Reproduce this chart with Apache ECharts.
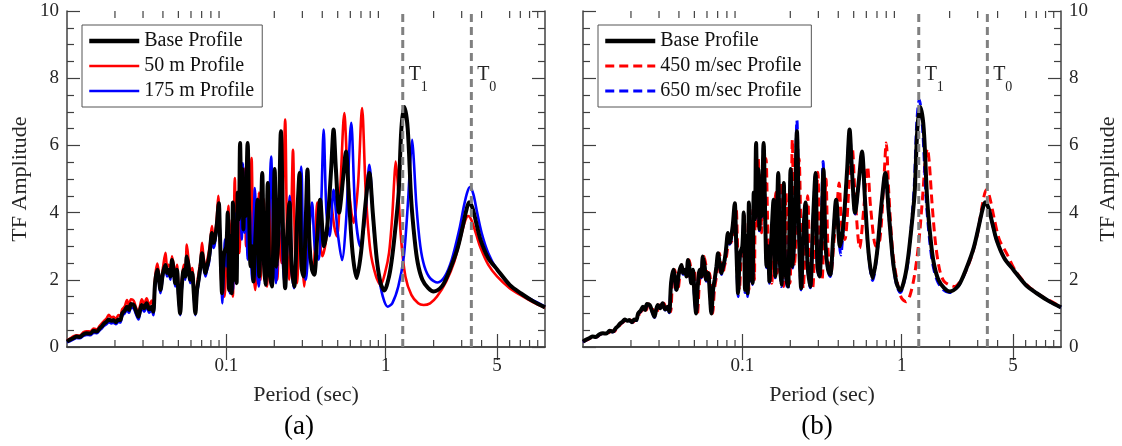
<!DOCTYPE html>
<html><head><meta charset="utf-8">
<script src="https://cdn.jsdelivr.net/npm/echarts@6/dist/echarts.min.js"></script>
<style>html,body{margin:0;padding:0;background:#fff;}#c{width:1122px;height:446px;}</style>
</head><body><div id="c"></div>
<script>
// ---------- data ----------
const xMin = 0.01, xMax = 10;
const xLabelTicks = [0.1, 1, 5];
const xMinorTicks = [0.02,0.03,0.04,0.05,0.06,0.07,0.08,0.09,0.2,0.3,0.4,0.5,0.6,0.7,0.8,0.9,2,3,4,6,7,8,9];
const T1 = 1.28, T0 = 3.45;
const legendA = ['Base Profile', '50 m Profile', '175 m Profile'];
const legendB = ['Base Profile', '450 m/sec Profile', '650 m/sec Profile'];

const baseProfile = [
[0.0100,0.16],[0.0105,0.22],[0.0110,0.27],[0.0115,0.31],[0.0120,0.30],[0.0127,0.38],[0.0133,0.41],[0.0140,0.40],[0.0147,0.48],[0.0154,0.46],[0.0160,0.55],[0.0165,0.61],[0.0171,0.70],[0.0177,0.75],[0.0183,0.82],[0.0190,0.78],[0.0195,0.80],[0.0203,0.74],[0.0210,0.82],[0.0216,0.80],[0.0222,1.00],[0.0230,1.08],[0.0238,1.20],[0.0245,1.10],[0.0252,1.28],[0.0262,1.25],[0.0270,1.10],[0.0281,0.90],[0.0288,1.12],[0.0295,1.25],[0.0305,1.15],[0.0316,1.30],[0.0328,1.12],[0.0340,1.20],[0.0348,1.05],[0.0357,1.90],[0.0369,2.30],[0.0378,2.00],[0.0386,1.70],[0.0400,2.20],[0.0415,2.44],[0.0425,2.20],[0.0435,2.30],[0.0446,2.10],[0.0456,2.59],[0.0467,2.30],[0.0478,1.90],[0.0490,2.30],[0.0500,1.60],[0.0513,1.00],[0.0525,1.80],[0.0540,2.30],[0.0553,2.10],[0.0565,2.69],[0.0580,2.40],[0.0593,2.00],[0.0610,2.20],[0.0625,1.60],[0.0639,1.00],[0.0655,1.70],[0.0670,2.00],[0.0688,2.40],[0.0704,2.79],[0.0720,2.50],[0.0740,2.20],[0.0757,2.40],[0.0774,2.59],[0.0790,2.90],[0.0812,3.39],[0.0830,3.10],[0.0845,3.19],[0.0870,3.60],[0.0897,4.28],[0.0910,3.50],[0.0925,2.40],[0.0940,1.60],[0.0955,2.30],[0.0970,2.80],[0.1000,2.99],[0.1020,4.00],[0.1040,1.70],[0.1060,3.30],[0.1080,1.60],[0.1100,4.30],[0.1120,2.00],[0.1140,3.60],[0.1160,1.90],[0.1180,4.60],[0.1200,3.80],[0.1220,6.07],[0.1240,4.90],[0.1260,5.30],[0.1280,3.50],[0.1300,4.80],[0.1320,3.90],[0.1360,6.07],[0.1390,4.00],[0.1420,2.40],[0.1450,3.00],[0.1480,1.95],[0.1520,3.20],[0.1570,4.38],[0.1610,2.10],[0.1640,3.40],[0.1680,5.18],[0.1720,2.60],[0.1760,1.85],[0.1820,4.88],[0.1860,2.30],[0.1930,1.80],[0.2010,5.30],[0.2070,2.39],[0.2130,3.50],[0.2200,6.42],[0.2280,3.00],[0.2340,1.75],[0.2410,3.30],[0.2490,4.30],[0.2570,2.40],[0.2670,1.80],[0.2780,3.80],[0.2880,5.18],[0.2960,2.40],[0.3050,2.10],[0.3140,3.50],[0.3230,5.28],[0.3330,3.00],[0.3450,2.30],[0.3560,2.15],[0.3720,3.30],[0.3880,4.38],[0.4100,3.00],[0.4300,3.60],[0.4550,5.30],[0.4710,6.47],[0.4870,5.30],[0.5100,4.00],[0.5400,5.00],[0.5630,5.82],[0.5900,4.30],[0.6200,2.80],[0.6570,2.05],[0.7000,2.80],[0.7450,4.20],[0.7900,5.18],[0.8300,4.00],[0.8800,2.60],[0.9300,1.90],[0.9800,1.68],[1.0500,2.10],[1.1000,2.70],[1.1600,3.70],[1.2070,4.60],[1.2550,6.50],[1.3100,7.14],[1.3750,6.50],[1.4450,4.40],[1.5200,3.20],[1.5900,2.50],[1.7000,2.00],[1.8500,1.75],[2.0000,1.65],[2.2500,1.80],[2.4300,2.10],[2.8100,2.90],[3.0500,3.60],[3.2000,4.05],[3.3400,4.31],[3.5000,4.15],[3.7000,3.70],[3.9400,3.19],[4.4000,2.65],[5.0200,2.30],[6.0000,1.85],[7.0400,1.60],[8.5000,1.35],[10.000,1.18]
];

const profile50m = [
[0.0100,0.20],[0.0105,0.26],[0.0110,0.32],[0.0115,0.35],[0.0120,0.34],[0.0127,0.44],[0.0133,0.47],[0.0140,0.46],[0.0147,0.55],[0.0154,0.52],[0.0160,0.62],[0.0165,0.70],[0.0171,0.78],[0.0177,0.85],[0.0183,0.96],[0.0190,0.88],[0.0195,0.90],[0.0203,0.84],[0.0210,0.95],[0.0216,0.92],[0.0222,1.12],[0.0230,1.20],[0.0238,1.40],[0.0245,1.22],[0.0252,1.42],[0.0262,1.38],[0.0270,1.20],[0.0281,1.02],[0.0288,1.25],[0.0295,1.42],[0.0305,1.28],[0.0316,1.45],[0.0328,1.25],[0.0340,1.38],[0.0348,1.15],[0.0357,2.05],[0.0369,2.48],[0.0378,2.15],[0.0386,1.85],[0.0400,2.35],[0.0415,2.80],[0.0425,2.40],[0.0435,2.45],[0.0446,2.25],[0.0456,2.70],[0.0467,2.45],[0.0478,2.05],[0.0490,2.45],[0.0500,1.80],[0.0513,1.15],[0.0525,1.95],[0.0540,2.45],[0.0553,2.25],[0.0565,3.05],[0.0580,2.55],[0.0593,2.15],[0.0610,2.35],[0.0625,1.75],[0.0639,1.20],[0.0655,1.85],[0.0670,2.20],[0.0688,2.55],[0.0704,3.10],[0.0720,2.65],[0.0740,2.30],[0.0757,2.55],[0.0774,2.80],[0.0790,3.05],[0.0812,3.60],[0.0830,3.25],[0.0845,3.30],[0.0870,3.80],[0.0890,4.50],[0.0905,3.70],[0.0920,2.60],[0.0935,1.80],[0.0955,2.40],[0.0975,1.50],[0.1000,2.60],[0.1030,4.20],[0.1050,1.90],[0.1080,3.80],[0.1100,1.50],[0.1130,5.03],[0.1160,2.40],[0.1190,4.00],[0.1210,2.80],[0.1240,5.00],[0.1270,3.60],[0.1300,5.30],[0.1330,3.00],[0.1370,5.40],[0.1400,3.20],[0.1440,5.62],[0.1480,2.40],[0.1520,1.70],[0.1560,3.60],[0.1600,4.60],[0.1640,2.00],[0.1680,3.30],[0.1720,4.40],[0.1760,2.20],[0.1800,1.80],[0.1860,4.90],[0.1910,2.50],[0.1960,2.00],[0.2030,4.00],[0.2090,2.00],[0.2150,3.50],[0.2220,2.50],[0.2280,4.80],[0.2340,6.77],[0.2410,3.00],[0.2480,2.00],[0.2550,3.70],[0.2620,5.87],[0.2700,2.80],[0.2780,1.90],[0.2850,3.20],[0.2920,4.40],[0.3000,2.60],[0.3080,1.80],[0.3170,3.00],[0.3270,4.38],[0.3380,2.60],[0.3500,2.20],[0.3600,3.00],[0.3720,4.30],[0.3850,3.30],[0.4000,2.70],[0.4200,3.10],[0.4500,4.40],[0.4750,3.60],[0.4950,3.29],[0.5200,4.80],[0.5500,6.96],[0.5800,5.00],[0.6290,3.69],[0.6700,4.80],[0.7110,7.11],[0.7500,4.60],[0.8000,2.90],[0.8700,2.10],[0.9300,1.85],[0.9900,2.20],[1.0500,2.80],[1.1000,3.90],[1.1300,4.90],[1.1560,5.52],[1.1900,4.90],[1.2500,3.20],[1.3300,2.10],[1.4500,1.55],[1.6000,1.30],[1.7300,1.25],[1.9000,1.30],[2.1000,1.50],[2.4000,1.95],[2.7000,2.55],[2.9500,3.25],[3.1500,3.75],[3.3000,3.90],[3.4500,3.78],[3.7000,3.35],[3.9400,2.95],[4.4000,2.45],[5.0000,2.10],[6.0000,1.75],[7.0000,1.55],[8.5000,1.32],[10.000,1.17]
];

const profile175m = [
[0.0100,0.14],[0.0105,0.18],[0.0110,0.23],[0.0115,0.27],[0.0120,0.26],[0.0127,0.33],[0.0133,0.36],[0.0140,0.35],[0.0147,0.42],[0.0154,0.41],[0.0160,0.49],[0.0165,0.55],[0.0171,0.63],[0.0177,0.68],[0.0183,0.74],[0.0190,0.70],[0.0195,0.72],[0.0203,0.68],[0.0210,0.75],[0.0216,0.73],[0.0222,0.92],[0.0230,1.00],[0.0238,1.10],[0.0245,1.02],[0.0252,1.18],[0.0262,1.15],[0.0270,1.00],[0.0281,0.82],[0.0288,1.02],[0.0295,1.15],[0.0305,1.05],[0.0316,1.20],[0.0328,1.02],[0.0340,1.10],[0.0348,0.95],[0.0357,1.75],[0.0369,2.20],[0.0378,1.90],[0.0386,1.60],[0.0400,2.10],[0.0415,2.35],[0.0425,2.10],[0.0435,2.20],[0.0446,2.00],[0.0456,2.50],[0.0467,2.20],[0.0478,1.80],[0.0490,2.20],[0.0500,1.50],[0.0513,0.95],[0.0525,1.70],[0.0540,2.20],[0.0553,2.00],[0.0565,2.55],[0.0580,2.30],[0.0593,1.90],[0.0610,2.10],[0.0625,1.50],[0.0639,0.95],[0.0655,1.60],[0.0670,1.90],[0.0688,2.30],[0.0704,2.65],[0.0720,2.40],[0.0740,2.10],[0.0757,2.30],[0.0774,2.45],[0.0790,2.75],[0.0812,3.20],[0.0830,2.95],[0.0845,3.05],[0.0870,3.50],[0.0897,4.00],[0.0915,3.20],[0.0930,2.10],[0.0945,1.30],[0.0960,2.00],[0.0980,3.20],[0.1000,2.40],[0.1030,3.60],[0.1050,1.60],[0.1080,3.00],[0.1100,1.70],[0.1130,4.00],[0.1160,2.20],[0.1190,3.90],[0.1220,4.80],[0.1250,3.20],[0.1270,5.47],[0.1300,3.40],[0.1330,4.50],[0.1360,2.60],[0.1400,4.20],[0.1450,2.00],[0.1510,4.73],[0.1560,2.20],[0.1600,1.80],[0.1650,3.50],[0.1700,4.20],[0.1760,2.00],[0.1830,3.00],[0.1910,5.67],[0.1980,2.80],[0.2050,1.90],[0.2120,3.40],[0.2180,5.20],[0.2260,2.60],[0.2340,1.80],[0.2420,3.20],[0.2500,4.50],[0.2580,2.20],[0.2660,1.75],[0.2780,3.50],[0.2950,5.37],[0.3050,2.39],[0.3150,2.00],[0.3300,3.30],[0.3450,4.30],[0.3600,2.90],[0.3800,2.60],[0.3950,4.40],[0.4080,6.47],[0.4250,4.00],[0.4450,3.30],[0.4710,4.68],[0.5000,3.40],[0.5320,2.59],[0.5650,3.80],[0.6080,6.67],[0.6450,4.00],[0.6930,2.99],[0.7400,3.80],[0.7900,5.42],[0.8400,3.60],[0.9000,2.20],[0.9600,1.50],[1.0300,1.20],[1.1000,1.30],[1.2000,1.80],[1.3000,2.70],[1.3800,4.30],[1.4300,5.60],[1.4660,6.17],[1.5000,5.60],[1.5600,4.20],[1.6500,3.00],[1.7500,2.40],[1.9000,2.05],[2.1200,1.92],[2.3500,2.10],[2.6000,2.60],[2.9000,3.50],[3.1000,4.20],[3.2500,4.60],[3.3800,4.76],[3.5500,4.55],[3.7500,4.00],[4.0000,3.40],[4.4000,2.80],[5.0000,2.30],[6.0000,1.85],[7.0000,1.60],[8.5000,1.38],[10.000,1.20]
];

const profile450 = [
[0.0100,0.15],[0.0106,0.21],[0.0112,0.27],[0.0117,0.31],[0.0122,0.30],[0.0129,0.38],[0.0136,0.41],[0.0143,0.40],[0.0150,0.48],[0.0157,0.46],[0.0163,0.55],[0.0168,0.61],[0.0174,0.70],[0.0180,0.75],[0.0187,0.82],[0.0194,0.78],[0.0199,0.80],[0.0207,0.74],[0.0214,0.82],[0.0220,0.80],[0.0226,1.00],[0.0235,1.08],[0.0243,1.20],[0.0250,1.10],[0.0257,1.28],[0.0267,1.25],[0.0275,1.10],[0.0287,0.90],[0.0294,1.12],[0.0301,1.25],[0.0311,1.15],[0.0322,1.30],[0.0335,1.12],[0.0347,1.20],[0.0355,1.05],[0.0364,1.90],[0.0376,2.30],[0.0386,2.00],[0.0394,1.70],[0.0408,2.20],[0.0423,2.44],[0.0434,2.20],[0.0444,2.30],[0.0455,2.10],[0.0465,2.59],[0.0476,2.30],[0.0488,1.90],[0.0500,2.30],[0.0510,1.60],[0.0523,1.00],[0.0536,1.80],[0.0551,2.30],[0.0564,2.10],[0.0576,2.69],[0.0592,2.40],[0.0605,2.00],[0.0622,2.20],[0.0638,1.60],[0.0652,1.00],[0.0668,1.70],[0.0683,2.00],[0.0702,2.40],[0.0718,2.79],[0.0734,2.50],[0.0755,2.20],[0.0772,2.40],[0.0789,2.59],[0.0806,2.90],[0.0828,3.39],[0.0847,3.10],[0.0862,3.19],[0.0887,3.60],[0.0915,4.10],[0.0928,3.40],[0.0944,2.30],[0.0959,1.70],[0.0975,2.30],[0.0990,2.80],[0.1010,2.70],[0.1030,3.90],[0.1060,1.80],[0.1080,3.20],[0.1100,1.70],[0.1120,4.10],[0.1140,2.20],[0.1170,3.70],[0.1190,2.00],[0.1210,4.40],[0.1240,3.60],[0.1260,5.60],[0.1280,4.70],[0.1300,5.10],[0.1320,3.40],[0.1340,4.60],[0.1370,3.80],[0.1410,5.60],[0.1440,3.80],[0.1470,2.30],[0.1500,3.10],[0.1530,1.90],[0.1570,3.10],[0.1620,4.60],[0.1660,2.20],[0.1700,3.30],[0.1740,4.90],[0.1780,2.50],[0.1820,1.80],[0.1880,4.60],[0.1930,2.20],[0.1990,1.90],[0.2060,6.17],[0.2120,2.40],[0.2190,3.40],[0.2270,5.60],[0.2350,2.80],[0.2410,1.75],[0.2490,3.20],[0.2570,4.50],[0.2660,2.30],[0.2760,1.75],[0.2870,3.70],[0.2980,5.20],[0.3060,2.40],[0.3160,2.00],[0.3250,3.40],[0.3350,5.00],[0.3450,2.90],[0.3600,2.20],[0.3750,3.10],[0.3900,4.00],[0.4050,4.88],[0.4200,3.60],[0.4400,3.20],[0.4700,5.00],[0.4900,5.90],[0.5100,4.50],[0.5450,2.95],[0.5800,4.20],[0.6100,5.37],[0.6400,4.10],[0.6900,3.00],[0.7300,3.20],[0.7700,4.80],[0.8000,6.07],[0.8300,4.60],[0.8800,2.80],[0.9500,1.80],[1.0000,1.45],[1.0660,1.35],[1.1300,1.55],[1.2000,2.10],[1.2800,3.10],[1.3500,4.40],[1.4100,5.60],[1.4500,5.90],[1.4900,5.50],[1.5500,4.30],[1.6300,3.10],[1.7300,2.30],[1.8500,1.95],[2.1500,1.80],[2.4000,2.05],[2.7000,2.60],[3.0000,3.40],[3.2000,4.20],[3.4000,4.68],[3.5500,4.50],[3.8000,3.85],[4.1000,3.20],[4.6000,2.75],[5.2000,2.25],[6.2000,1.82],[7.2000,1.58],[8.5000,1.38],[10.000,1.20]
];

const profile650 = [
[0.0100,0.15],[0.0105,0.21],[0.0110,0.26],[0.0115,0.30],[0.0120,0.29],[0.0127,0.37],[0.0133,0.40],[0.0140,0.39],[0.0147,0.47],[0.0154,0.45],[0.0160,0.54],[0.0165,0.60],[0.0171,0.69],[0.0177,0.74],[0.0183,0.81],[0.0190,0.77],[0.0195,0.79],[0.0203,0.73],[0.0210,0.81],[0.0216,0.79],[0.0222,0.98],[0.0230,1.06],[0.0238,1.18],[0.0245,1.08],[0.0252,1.26],[0.0262,1.23],[0.0270,1.08],[0.0281,0.88],[0.0288,1.10],[0.0295,1.23],[0.0305,1.13],[0.0316,1.28],[0.0328,1.10],[0.0340,1.18],[0.0348,1.02],[0.0357,1.86],[0.0369,2.26],[0.0378,1.96],[0.0386,1.66],[0.0400,2.16],[0.0415,2.40],[0.0425,2.16],[0.0435,2.26],[0.0446,2.06],[0.0456,2.55],[0.0467,2.26],[0.0478,1.86],[0.0490,2.26],[0.0500,1.56],[0.0513,0.98],[0.0525,1.76],[0.0540,2.26],[0.0553,2.06],[0.0565,2.65],[0.0580,2.36],[0.0593,1.96],[0.0610,2.16],[0.0625,1.56],[0.0639,0.98],[0.0655,1.66],[0.0670,1.96],[0.0688,2.36],[0.0704,2.75],[0.0720,2.46],[0.0740,2.16],[0.0757,2.36],[0.0774,2.55],[0.0790,2.86],[0.0812,3.35],[0.0830,3.06],[0.0845,3.15],[0.0870,3.56],[0.0897,4.22],[0.0910,3.46],[0.0925,2.36],[0.0940,1.50],[0.0955,2.26],[0.0970,2.76],[0.1000,2.95],[0.1020,3.96],[0.1040,1.62],[0.1060,3.26],[0.1080,1.50],[0.1100,4.26],[0.1120,1.96],[0.1140,3.56],[0.1160,1.86],[0.1180,4.56],[0.1200,3.76],[0.1220,6.00],[0.1240,4.86],[0.1260,5.26],[0.1280,3.46],[0.1300,4.76],[0.1320,3.86],[0.1360,6.00],[0.1390,3.96],[0.1420,2.36],[0.1450,2.96],[0.1480,1.90],[0.1520,3.16],[0.1570,4.34],[0.1610,2.06],[0.1640,3.36],[0.1680,5.14],[0.1720,2.56],[0.1760,1.80],[0.1820,4.84],[0.1860,2.26],[0.1930,1.70],[0.2010,5.26],[0.2070,2.35],[0.2130,3.46],[0.2200,6.75],[0.2280,2.96],[0.2340,1.70],[0.2410,3.26],[0.2490,4.26],[0.2570,2.36],[0.2670,1.76],[0.2780,3.76],[0.2880,5.14],[0.2960,2.36],[0.3050,2.06],[0.3140,3.46],[0.3210,5.52],[0.3330,2.96],[0.3450,2.26],[0.3560,2.10],[0.3720,3.26],[0.3880,4.34],[0.4150,2.74],[0.4300,3.56],[0.4550,5.26],[0.4710,6.43],[0.4870,5.26],[0.5100,3.96],[0.5400,4.96],[0.5630,5.80],[0.5900,4.26],[0.6200,2.76],[0.6570,1.98],[0.7000,2.76],[0.7450,4.16],[0.7900,5.14],[0.8300,3.96],[0.8800,2.56],[0.9300,1.84],[0.9800,1.62],[1.0500,2.06],[1.1000,2.60],[1.1500,3.60],[1.2000,4.80],[1.2450,6.70],[1.2900,7.36],[1.3500,6.60],[1.4250,4.40],[1.5000,3.15],[1.5700,2.45],[1.6800,1.95],[1.8300,1.70],[2.0000,1.62],[2.2500,1.80],[2.4300,2.08],[2.8100,2.90],[3.0500,3.60],[3.2000,4.05],[3.3400,4.30],[3.5000,4.15],[3.7000,3.70],[3.9400,3.19],[4.4000,2.65],[5.0200,2.30],[6.0000,1.85],[7.0400,1.60],[8.5000,1.35],[10.000,1.18]
];

// ---------- styling ----------
const FONT = '"Liberation Serif", "Times New Roman", serif';
const AX = '#404040';
const TXT = '#262626';

function xAxesFor(g) {
  const common = {
    gridIndex: g, type: 'log', logBase: 10, min: xMin, max: xMax,
    splitLine: { show: false }, minorTick: { show: false }, minorSplitLine: { show: false },
    axisLine: { show: true, lineStyle: { color: AX, width: 1.5 } },
    axisTick: { show: true, inside: true, length: 13, customValues: xLabelTicks, lineStyle: { color: AX, width: 1.2 } }
  };
  return [
    Object.assign({}, common, {
      position: 'bottom',
      axisLabel: { show: true, customValues: xLabelTicks, formatter: v => String(v), margin: 10,
        fontFamily: FONT, fontSize: 19, color: TXT },
      name: 'Period (sec)', nameLocation: 'middle', nameGap: 37,
      nameTextStyle: { fontFamily: FONT, fontSize: 22, color: TXT }
    }),
    Object.assign({}, common, { position: 'top', axisLabel: { show: false } })
  ];
}

function yAxesFor(g) {
  const common = {
    gridIndex: g, type: 'value', min: 0, max: 10, interval: 2,
    splitLine: { show: false },
    axisLine: { show: true, lineStyle: { color: AX, width: 1.5 } },
    axisTick: { show: true, inside: true, length: 13, lineStyle: { color: AX, width: 1.2 } },
    minorTick: { show: true, splitNumber: 4, length: 7, lineStyle: { color: AX, width: 1.2 } }
  };
  const labelled = {
    axisLabel: { show: true, margin: 8, fontFamily: FONT, fontSize: 19, color: TXT },
    name: 'TF Amplitude', nameLocation: 'middle', nameGap: 36, nameRotate: 90,
    nameTextStyle: { fontFamily: FONT, fontSize: 22, color: TXT }
  };
  const plain = { axisLabel: { show: false } };
  return [
    Object.assign({}, common, { position: 'left' }, g === 0 ? labelled : plain),
    Object.assign({}, common, { position: 'right' }, g === 1 ? labelled : plain)
  ];
}

function dataLine(name, data, g, color, width, dashed, z) {
  return {
    name, type: 'line', data, xAxisIndex: 2 * g, yAxisIndex: 2 * g,
    showSymbol: false, symbol: 'none', smooth: 0.3, sampling: null,
    lineStyle: { color, width, type: dashed ? [9, 5] : 'solid' },
    itemStyle: { color }, z, animation: false
  };
}

function refLine(T, g) {
  return {
    type: 'line', data: [[T, 0], [T, 10]], xAxisIndex: 2 * g, yAxisIndex: 2 * g,
    showSymbol: false, symbol: 'none', silent: true, z: 10,
    lineStyle: { color: '#808080', width: 3, type: [8, 5] }, animation: false
  };
}

function tLabel(T, sub, g) {
  return {
    type: 'custom', xAxisIndex: 2 * g, yAxisIndex: 2 * g, silent: true, z: 11,
    data: [[T, 8.1]], clip: false, animation: false,
    renderItem: function (params, api) {
      const p = api.coord([api.value(0), api.value(1)]);
      return { type: 'group', children: [
        { type: 'text', x: p[0] + 6, y: p[1], style: { text: 'T', font: '20px "Liberation Serif"', fill: TXT, align: 'left', verticalAlign: 'middle' } },
        { type: 'text', x: p[0] + 18, y: p[1] + 12, style: { text: sub, font: '14px "Liberation Serif"', fill: TXT, align: 'left', verticalAlign: 'middle' } }
      ] };
    }
  };
}

function minorTickSeries(g) {
  return {
    type: 'custom', xAxisIndex: 2 * g, yAxisIndex: 2 * g, silent: true, z: 9,
    data: xMinorTicks.map(v => [v, 0]), clip: false, animation: false,
    renderItem: function (params, api) {
      const b = api.coord([api.value(0), 0]);
      const t = api.coord([api.value(0), 10]);
      const st = { stroke: AX, lineWidth: 1.2 };
      return { type: 'group', children: [
        { type: 'line', shape: { x1: b[0], y1: b[1], x2: b[0], y2: b[1] - 7 }, style: st },
        { type: 'line', shape: { x1: t[0], y1: t[1], x2: t[0], y2: t[1] + 7 }, style: st }
      ] };
    }
  };
}

function legendItems(names, widths, dashed) {
  return names.map((n, i) => ({
    name: n,
    itemStyle: { opacity: 0 },
    lineStyle: { width: widths[i], type: dashed[i] ? [9, 5] : 'solid' }
  }));
}

const legendCommon = {
  orient: 'vertical', itemWidth: 50, itemHeight: 14, itemGap: 5,
  borderColor: '#555', borderWidth: 1, backgroundColor: '#fff',
  itemStyle: { opacity: 0 },
  selectedMode: false, textStyle: { fontFamily: FONT, fontSize: 20, color: '#111' }
};

const option = {
  backgroundColor: '#fff',
  animation: false,
  grid: [
    { left: 67, top: 11, width: 478, height: 336 },
    { left: 583, top: 11, width: 478, height: 336 }
  ],
  xAxis: [...xAxesFor(0), ...xAxesFor(1)],
  yAxis: [...yAxesFor(0), ...yAxesFor(1)],
  legend: [
    Object.assign({}, legendCommon, { left: 82, top: 25, padding: [6, 8, 6, 5],
      data: legendItems(legendA, [4.5, 2.6, 2.6], [false, false, false]) }),
    Object.assign({}, legendCommon, { left: 598, top: 25, padding: [6, 10, 6, 5],
      data: legendItems(legendB, [4.5, 3, 3], [false, true, true]) })
  ],
  graphic: [
    { type: 'text', x: 299, y: 427, style: { text: '(a)', font: '27px "Liberation Serif"', fill: '#000', align: 'center', verticalAlign: 'middle' } },
    { type: 'text', x: 817, y: 427, style: { text: '(b)', font: '27px "Liberation Serif"', fill: '#000', align: 'center', verticalAlign: 'middle' } }
  ],
  series: [
    dataLine(legendA[1], profile50m, 0, '#ff0000', 2.6, false, 3),
    dataLine(legendA[2], profile175m, 0, '#0000ff', 2.6, false, 4),
    dataLine(legendA[0], baseProfile, 0, '#000000', 4, false, 5),
    dataLine(legendB[1], profile450, 1, '#ff0000', 3, true, 3),
    dataLine(legendB[2], profile650, 1, '#0000ff', 3, true, 4),
    dataLine(legendB[0], baseProfile, 1, '#000000', 4, false, 5),
    refLine(T1, 0), refLine(T0, 0), refLine(T1, 1), refLine(T0, 1),
    tLabel(T1, '1', 0), tLabel(T0, '0', 0), tLabel(T1, '1', 1), tLabel(T0, '0', 1),
    minorTickSeries(0), minorTickSeries(1)
  ]
};

const chart = echarts.init(document.getElementById('c'), null, { renderer: 'canvas' });
chart.setOption(option);
</script>
</body></html>
